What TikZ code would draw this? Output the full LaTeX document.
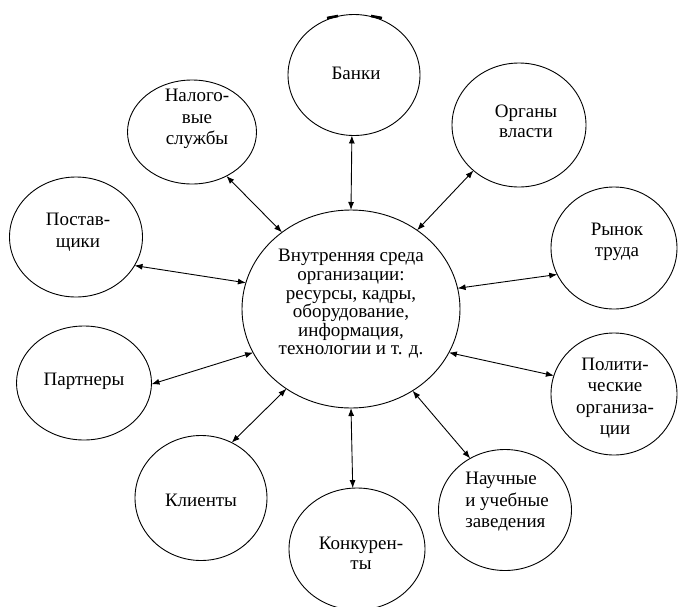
\documentclass[tikz,border=0pt]{standalone}
\usepackage{fontspec}
\setmainfont{Liberation Serif}
\usetikzlibrary{shapes.geometric,arrows.meta}
\begin{document}
\begin{tikzpicture}[x=1pt,y=-1pt,
  bub/.style={draw,ellipse,line width=0.9pt,inner sep=0pt,outer sep=0pt},
  lbl/.style={align=center,font=\fontsize{19}{21.5}\selectfont,inner sep=0pt},
  link/.style={line width=0.9pt,{Latex[length=8pt,width=6pt]}-{Latex[length=8pt,width=6pt]}}]
\useasboundingbox (0,0) rectangle (678,606);
% bubbles
\node[bub,minimum width=218pt,minimum height=198pt] (c) at (351,309) {};
\node[bub,minimum width=132pt,minimum height=121pt] (banks) at (354,75) {};
\node[bub,minimum width=129pt,minimum height=104pt] (nalog) at (192,132) {};
\node[bub,minimum width=134pt,minimum height=124pt] (organy) at (519,125) {};
\node[bub,minimum width=126pt,minimum height=122pt] (rynok) at (614,248) {};
\node[bub,minimum width=126pt,minimum height=122pt] (polit) at (614,394) {};
\node[bub,minimum width=133pt,minimum height=121pt] (nauch) at (505,510) {};
\node[bub,minimum width=136pt,minimum height=122pt] (konk) at (357,549) {};
\node[bub,minimum width=132pt,minimum height=125pt] (klient) at (201,498) {};
\node[bub,minimum width=135pt,minimum height=114pt] (partn) at (84,383) {};
\node[bub,minimum width=133pt,minimum height=120pt] (postav) at (76,237) {};
% scan marks on top of Банки
\coordinate (m1a) at (327,18);
\coordinate (m1b) at (338,16);
\coordinate (m2a) at (371,16);
\coordinate (m2b) at (382,18);
\draw[line width=2.6pt] (m1a) -- (m1b);
\draw[line width=2.6pt] (m2a) -- (m2b);
% texts
\node[lbl,font=\fontsize{19}{18.6}\selectfont] (ct) at (351,304) {Внутренняя среда\\организации:\\ресурсы, кадры,\\оборудование,\\информация,\\технологии и т. д.};
\node[lbl] (tbanks) at (356,73) {Банки};
\node[lbl] (tnalog) at (197,119) {Налого-\\вые\\службы};
\node[lbl,font=\fontsize{19}{20}\selectfont] (torgany) at (526,121) {Органы\\власти};
\node[lbl] (trynok) at (617,242) {Рынок\\труда};
\node[lbl] (tpolit) at (615,398) {Полити-\\ческие\\организа-\\ции};
\node[lbl,align=left] (tnauch) at (507,502) {Научные\\и учебные\\заведения};
\node[lbl,font=\fontsize{19}{20}\selectfont] (tkonk) at (361,553) {Конкурен-\\ты};
\node[lbl] (tklient) at (201,500) {Клиенты};
\node[lbl] (tpartn) at (84,381) {Партнеры};
\node[lbl] (tpostav) at (78,232) {Постав-\\щики};
% connectors
\draw[link] (nalog.-52) -- (c.132.7);
\draw[link] (postav.-26) -- (c.166);
\draw[link] (banks.-92) -- (c.90);
\draw[link] (organy.-135) -- (c.50);
\draw[link] (rynok.-155) -- (c.11.7);
\draw[link] (c.-24) -- (polit.163);
\draw[link] (c.-53.4) -- (nauch.124.7);
\draw[link] (c.-90) -- (konk.94);
\draw[link] (c.-129) -- (klient.61);
\draw[link] (partn.-1.7) -- (c.-156);
\end{tikzpicture}
\end{document}
